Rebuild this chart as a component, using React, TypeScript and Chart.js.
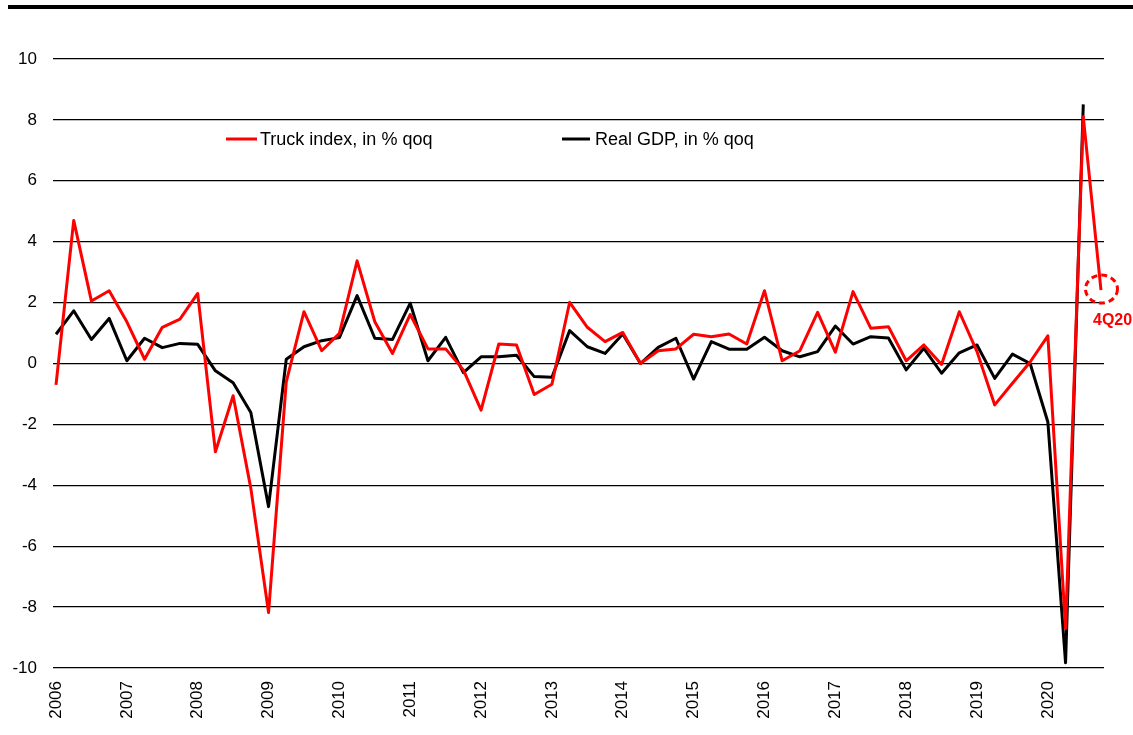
import React, { useEffect, useRef } from "react";
import { Chart, registerables } from "chart.js";

Chart.register(...registerables);

const years = ["2006", "2007", "2008", "2009", "2010", "2011", "2012", "2013", "2014", "2015", "2016", "2017", "2018", "2019", "2020"];

const truckIndex = [
  -0.7, 4.7, 2.05, 2.39,
  1.37, 0.14, 1.19, 1.46,
  2.3, -2.9, -1.06, -4.1,
  -8.18, -0.6, 1.7, 0.42,
  0.99, 3.37, 1.37, 0.33,
  1.61, 0.48, 0.48, -0.21,
  -1.53, 0.64, 0.61, -1.02,
  -0.68, 2.01, 1.19, 0.72,
  1.02, 0.0, 0.42, 0.48,
  0.96, 0.88, 0.97, 0.64,
  2.39, 0.09, 0.42, 1.68,
  0.37, 2.36, 1.16, 1.21,
  0.09, 0.61, -0.03, 1.7,
  0.39, -1.36, -0.65, 0.05,
  0.91, -8.7, 8.1, 2.41,
];

const realGdp = [
  0.96, 1.73, 0.79, 1.48,
  0.09, 0.83, 0.52, 0.66,
  0.63, -0.24, -0.63, -1.61,
  -4.7, 0.14, 0.55, 0.75,
  0.85, 2.23, 0.83, 0.79,
  1.98, 0.09, 0.86, -0.3,
  0.22, 0.22, 0.27, -0.43,
  -0.45, 1.08, 0.55, 0.33,
  0.97, 0.0, 0.53, 0.83,
  -0.51, 0.72, 0.47, 0.47,
  0.86, 0.42, 0.22, 0.39,
  1.23, 0.64, 0.88, 0.84,
  -0.21, 0.5, -0.32, 0.35,
  0.61, -0.49, 0.31, 0.0,
  -1.92, -9.83, 8.51, null,
];

const seriesLabels = ["Truck index, in % qoq", "Real GDP, in % qoq"];
const seriesColors = ["#ff0000", "#000000"];
const annotationText = "4Q20";
const yTicks = [-10, -8, -6, -4, -2, 0, 2, 4, 6, 8, 10];

const FONT = "'Liberation Sans', Arial, Helvetica, sans-serif";

const legendPlugin = {
  id: "insideLegend",
  afterDraw(chart: any) {
    const ctx = chart.ctx;
    const items = [
      { lineStart: 226, lineEnd: 257, textX: 260 },
      { lineStart: 562, lineEnd: 590, textX: 595 },
    ];
    const y = 139;
    ctx.save();
    ctx.font = `18px ${FONT}`;
    ctx.textBaseline = "middle";
    ctx.textAlign = "left";
    items.forEach((it, i) => {
      ctx.strokeStyle = seriesColors[i];
      ctx.lineWidth = 3;
      ctx.beginPath();
      ctx.moveTo(it.lineStart, y);
      ctx.lineTo(it.lineEnd, y);
      ctx.stroke();
      ctx.fillStyle = "#000";
      ctx.fillText(seriesLabels[i], it.textX, y + 1);
    });
    ctx.restore();
  },
};

const annotationPlugin = {
  id: "lastPointAnnotation",
  afterDraw(chart: any) {
    const meta = chart.getDatasetMeta(0);
    const pt = meta.data[meta.data.length - 1];
    if (!pt) return;
    const ctx = chart.ctx;
    ctx.save();
    ctx.strokeStyle = "#ff0000";
    ctx.lineWidth = 3;
    ctx.setLineDash([6, 4]);
    ctx.beginPath();
    ctx.ellipse(pt.x + 0.5, pt.y - 1, 16, 14, 0, 0, Math.PI * 2);
    ctx.stroke();
    ctx.setLineDash([]);
    ctx.fillStyle = "#ff0000";
    ctx.font = `bold 16px ${FONT}`;
    ctx.textAlign = "left";
    ctx.textBaseline = "middle";
    ctx.fillText(annotationText, pt.x - 8, pt.y + 30);
    ctx.restore();
  },
};

export default function App() {
  const canvasRef = useRef<HTMLCanvasElement | null>(null);

  useEffect(() => {
    if (!canvasRef.current) return;
    const toPoints = (arr: (number | null)[]) => arr.map((v, i) => ({ x: i, y: v }));
    const chart = new Chart(canvasRef.current, {
      type: "line",
      data: {
        datasets: [
          {
            label: seriesLabels[0],
            data: toPoints(truckIndex) as any,
            borderColor: seriesColors[0],
            backgroundColor: seriesColors[0],
            borderWidth: 3,
            borderJoinStyle: "round",
            pointRadius: 0,
            tension: 0,
          },
          {
            label: seriesLabels[1],
            data: toPoints(realGdp) as any,
            borderColor: seriesColors[1],
            backgroundColor: seriesColors[1],
            borderWidth: 3,
            borderJoinStyle: "round",
            pointRadius: 0,
            tension: 0,
            spanGaps: false,
          },
        ],
      },
      options: {
        responsive: false,
        animation: false,
        devicePixelRatio: 1,
        layout: { padding: { left: 0, right: 29, top: 59, bottom: 0 } },
        plugins: {
          legend: { display: false },
          tooltip: { enabled: false },
        },
        scales: {
          x: {
            type: "linear",
            min: -0.17,
            max: 59.17,
            grid: { display: false },
            border: { display: false },
            afterBuildTicks: (axis: any) => {
              axis.ticks = years.map((_, i) => ({ value: i * 4 }));
            },
            afterFit: (scale: any) => {
              scale.height = 67;
            },
            ticks: {
              autoSkip: false,
              minRotation: 90,
              maxRotation: 90,
              padding: 5,
              color: "#000",
              font: { family: FONT, size: 17 },
              callback: (value: any) => years[Math.round(Number(value) / 4)] ?? "",
            },
          },
          y: {
            min: -10,
            max: 10,
            afterBuildTicks: (axis: any) => {
              axis.ticks = yTicks.map((v) => ({ value: v }));
            },
            afterFit: (scale: any) => {
              scale.width = 53;
            },
            grid: { color: "#000", lineWidth: 1.3, drawTicks: false },
            border: { display: false },
            ticks: {
              padding: 16,
              color: "#000",
              font: { family: FONT, size: 17 },
            },
          },
        },
      },
      plugins: [legendPlugin, annotationPlugin],
    });
    return () => chart.destroy();
  }, []);

  return (
    <div style={{ position: "absolute", left: 0, top: 0, width: 1133, height: 735, background: "#fff" }}>
      <div style={{ position: "absolute", left: 8, top: 5, width: 1125, height: 4, background: "#000" }} />
      <canvas ref={canvasRef} width={1133} height={735} style={{ position: "absolute", left: 0, top: 0 }} />
    </div>
  );
}
